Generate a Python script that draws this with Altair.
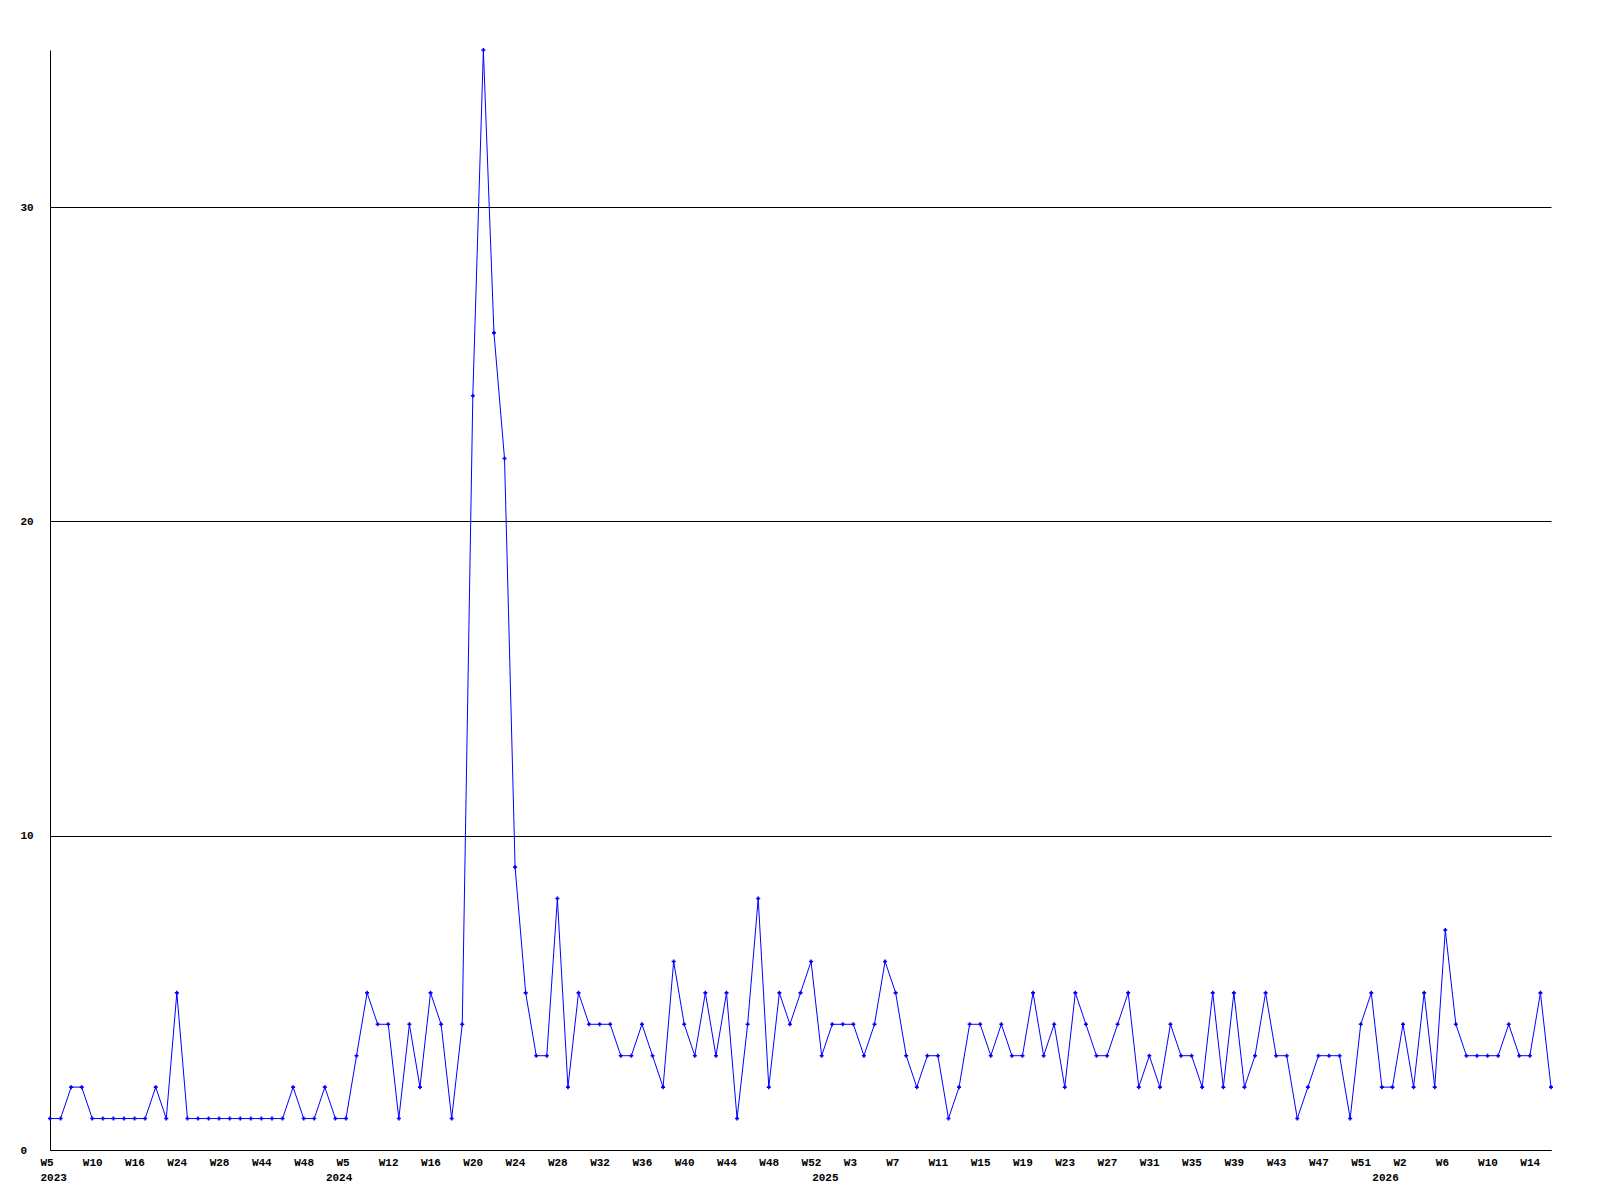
import altair as alt
import pandas as pd

# Weekly counts, one per plotted point (left to right)
values = [
    1, 1, 2, 2, 1, 1, 1, 1, 1, 1,
    2, 1, 5, 1, 1, 1, 1, 1, 1, 1,
    1, 1, 1, 2, 1, 1, 2, 1, 1, 3,
    5, 4, 4, 1, 4, 2, 5, 4, 1, 4,
    24, 35, 26, 22, 9, 5, 3, 3, 8, 2,
    5, 4, 4, 4, 3, 3, 4, 3, 2, 6,
    4, 3, 5, 3, 5, 1, 4, 8, 2, 5,
    4, 5, 6, 3, 4, 4, 4, 3, 4, 6,
    5, 3, 2, 3, 3, 1, 2, 4, 4, 3,
    4, 3, 3, 5, 3, 4, 2, 5, 4, 3,
    3, 4, 5, 2, 3, 2, 4, 3, 3, 2,
    5, 2, 5, 2, 3, 5, 3, 3, 1, 2,
    3, 3, 3, 1, 4, 5, 2, 2, 4, 2,
    5, 2, 7, 4, 3, 3, 3, 3, 4, 3,
    3, 5, 2,
]

# Week tick labels, one for every 4th point
week_labels = ["W5", "W10", "W16", "W24", "W28", "W44", "W48", "W5", "W12",
               "W16", "W20", "W24", "W28", "W32", "W36", "W40", "W44", "W48",
               "W52", "W3", "W7", "W11", "W15", "W19", "W23", "W27", "W31",
               "W35", "W39", "W43", "W47", "W51", "W2", "W6", "W10", "W14"]
# Year labels and the point index where each year starts
year_labels = ["2023", "2024", "2025", "2026"]
year_points = [0, 27, 73, 126]

df = pd.DataFrame({"idx": list(range(len(values))), "count": values})

step = 4
tick_vals = sorted(set(range(0, len(week_labels) * step, step)) | set(year_points))

wl = "[" + ",".join(f"'{s}'" for s in week_labels) + "]"
yl = "[" + ",".join(f"'{s}'" for s in year_labels) + "]"
yi = "[" + ",".join(str(v) for v in year_points) + "]"
label_expr = (
    f"[datum.value % {step} == 0 ? {wl}[datum.value / {step}] : '', "
    f"indexof({yi}, datum.value) >= 0 ? {yl}[indexof({yi}, datum.value)] : '']"
)

FONT = "Liberation Mono"
BLUE = "#0000FF"

x = alt.X(
    "idx:Q",
    scale=alt.Scale(domain=[0, len(values) - 1], nice=False, zero=False),
    axis=alt.Axis(
        title=None, values=tick_vals, labelExpr=label_expr, grid=False,
        ticks=False, tickSize=0, labelAlign="left", labelOffset=-10,
        labelBaseline="top", labelPadding=6, labelLineHeight=15,
        labelOverlap=False, labelFlush=False, labelFont=FONT,
        labelFontSize=11, labelFontWeight="bold", labelColor="black",
        domainColor="black", domainWidth=1,
    ),
)
y = alt.Y(
    "count:Q",
    scale=alt.Scale(domain=[0, 35], nice=False),
    axis=alt.Axis(
        title=None, values=[0, 10, 20, 30], grid=True, gridColor="black",
        gridOpacity=1, gridWidth=1, ticks=False, tickSize=0,
        labelAlign="left", labelPadding=30, labelBaseline="middle",
        labelFont=FONT, labelFontSize=11, labelFontWeight="bold",
        labelColor="black", domainColor="black", domainWidth=1,
    ),
)

base = alt.Chart(df).encode(x=x, y=y)
line = base.mark_line(color=BLUE, strokeWidth=1)
pts = base.mark_point(shape="cross", filled=True, size=16, color=BLUE, opacity=1)

chart = (
    alt.layer(line, pts)
    .properties(
        width=1501, height=1100, autosize="none",
        padding={"left": 42, "top": 42, "right": 30, "bottom": 40},
        background="white",
    )
    .configure_view(stroke=None)
)

chart.save("out.html", embed_options={"renderer": "svg", "actions": False})
